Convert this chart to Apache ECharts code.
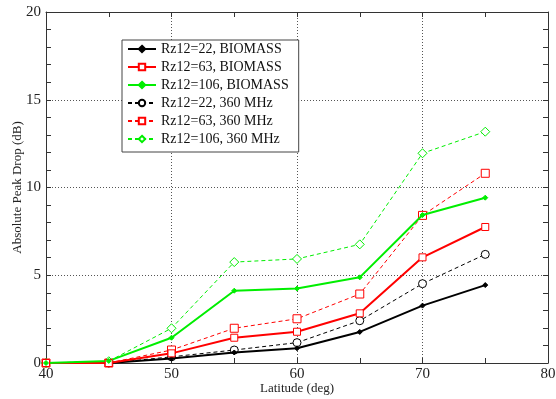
<!DOCTYPE html>
<html>
<head>
<meta charset="utf-8">
<script src="https://cdn.jsdelivr.net/npm/echarts@6/dist/echarts.min.js"></script>
<style>
html,body{margin:0;padding:0;background:#fff;}
#chart{width:556px;height:399px;}
</style>
</head>
<body>
<div id="chart"></div>
<script>
// Latitude samples (deg)
const latitudes = [40, 45, 50, 55, 60, 65, 70, 75];

// Absolute peak drop (dB) per case
const rz22Biomass  = [0, 0.0, 0.25, 0.6, 0.84, 1.77, 3.27, 4.44];
const rz63Biomass  = [0, 0.0, 0.55, 1.44, 1.78, 2.83, 6.02, 7.75];
const rz106Biomass = [0, 0.12, 1.44, 4.12, 4.24, 4.88, 8.43, 9.42];
const rz22Mhz      = [0, 0.0, 0.35, 0.74, 1.16, 2.41, 4.52, 6.19];
const rz63Mhz      = [0, 0.0, 0.74, 1.98, 2.52, 3.93, 8.41, 10.81];
const rz106Mhz     = [0, 0.1, 1.98, 5.75, 5.93, 6.76, 11.95, 13.18];

const seriesNames = [
  'Rz12=22, BIOMASS', 'Rz12=63, BIOMASS', 'Rz12=106, BIOMASS',
  'Rz12=22, 360 MHz', 'Rz12=63, 360 MHz', 'Rz12=106, 360 MHz'
];

const FONT = '"Liberation Serif", "DejaVu Serif", serif';

function pairs(vals) {
  return latitudes.map((x, i) => [x, vals[i]]);
}

function mkSeries(name, vals, color, solid, symbol, size) {
  return {
    name: name,
    type: 'line',
    data: pairs(vals),
    symbol: symbol,
    symbolSize: size,
    showSymbol: true,
    lineStyle: { color: color, width: solid ? 2 : 1, type: solid ? 'solid' : [4, 3] },
    itemStyle: { color: solid && symbol !== 'rect' ? color : '#fff', borderColor: color, borderWidth: 1 },
    emphasis: { disabled: true },
    animation: false,
    z: solid ? 3 : 2
  };
}

const chart = echarts.init(document.getElementById('chart'), null, { renderer: 'canvas' });

const gridLine = { show: true, lineStyle: { color: '#555', type: [1, 2], width: 1 } };

chart.setOption({
  backgroundColor: '#fff',
  animation: false,
  grid: { left: 46, right: 8, top: 12, bottom: 36, containLabel: false, outerBoundsMode: 'none' },
  legend: {
    orient: 'vertical',
    left: 122, top: 40,
    padding: [2, 10, 6, 5],
    itemGap: 4,
    itemWidth: 28, itemHeight: 8,
    backgroundColor: '#fff',
    borderColor: '#444', borderWidth: 1,
    textStyle: { fontFamily: FONT, fontSize: 14, color: '#111' },
    data: seriesNames
  },
  xAxis: [{
    type: 'value', min: 40, max: 80, interval: 10,
    name: 'Latitude (deg)', nameLocation: 'middle', nameGap: 19, nameMoveOverlap: false,
    nameTextStyle: { fontFamily: FONT, fontSize: 13, color: '#222' },
    axisLine: { show: true, onZero: false, lineStyle: { color: '#333', width: 1 } },
    axisTick: { show: true, inside: true, length: 5, lineStyle: { color: '#333' } },
    minorTick: { show: true, splitNumber: 2, length: 5, lineStyle: { color: '#333' } },
    axisLabel: { fontFamily: FONT, fontSize: 15, color: '#222', margin: 4 },
    splitLine: gridLine
  }, {
    type: 'value', min: 40, max: 80, interval: 10, position: 'top',
    axisLine: { show: true, onZero: false, lineStyle: { color: '#333', width: 1 } },
    axisTick: { show: true, inside: true, length: 5, lineStyle: { color: '#333' } },
    minorTick: { show: true, splitNumber: 2, length: 5, lineStyle: { color: '#333' } },
    axisLabel: { show: false },
    splitLine: { show: false }
  }],
  yAxis: [{
    type: 'value', min: 0, max: 20, interval: 5,
    name: 'Absolute Peak Drop (dB)', nameLocation: 'middle', nameGap: 22, nameMoveOverlap: false,
    nameTextStyle: { fontFamily: FONT, fontSize: 13, color: '#222' },
    axisLine: { show: true, onZero: false, lineStyle: { color: '#333', width: 1 } },
    axisTick: { show: true, inside: true, length: 5, lineStyle: { color: '#333' } },
    minorTick: { show: true, splitNumber: 5, length: 5, lineStyle: { color: '#333' } },
    axisLabel: { fontFamily: FONT, fontSize: 15, color: '#222', margin: 5 },
    splitLine: gridLine
  }, {
    type: 'value', min: 0, max: 20, interval: 5, position: 'right',
    axisLine: { show: true, onZero: false, lineStyle: { color: '#333', width: 1 } },
    axisTick: { show: true, inside: true, length: 5, lineStyle: { color: '#333' } },
    minorTick: { show: true, splitNumber: 5, length: 5, lineStyle: { color: '#333' } },
    axisLabel: { show: false },
    splitLine: { show: false }
  }],
  series: [
    mkSeries(seriesNames[0], rz22Biomass,  '#000000', true,  'diamond', 5),
    mkSeries(seriesNames[1], rz63Biomass,  '#ff0000', true,  'rect',    7),
    mkSeries(seriesNames[2], rz106Biomass, '#00ee00', true,  'diamond', 5),
    mkSeries(seriesNames[3], rz22Mhz,      '#000000', false, 'circle',  8),
    mkSeries(seriesNames[4], rz63Mhz,      '#ff0000', false, 'rect',    8),
    mkSeries(seriesNames[5], rz106Mhz,     '#00ee00', false, 'diamond', 9)
  ]
});
</script>
</body>
</html>
